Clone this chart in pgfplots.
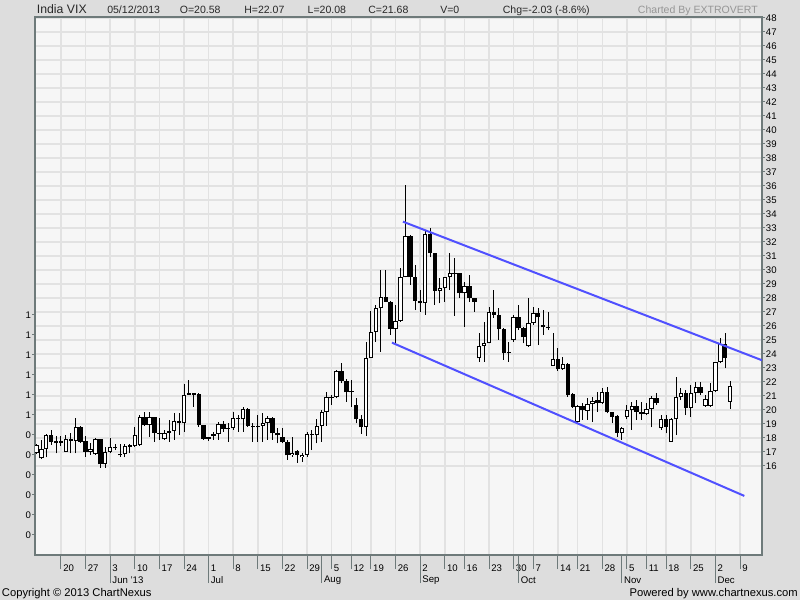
\documentclass[border=0pt]{standalone}
\usepackage{fontspec}
\setmainfont{Liberation Sans}
\usepackage{pgfplots}
\usepackage{pgfplotstable}
\pgfplotsset{compat=1.18}

\definecolor{outerbg}{RGB}{221,221,221}
\definecolor{plotbg}{RGB}{246,246,246}
\definecolor{gridc}{RGB}{226,226,226}
\definecolor{framec}{RGB}{110,122,122}
\definecolor{trend}{RGB}{80,80,255}
\definecolor{hdr}{RGB}{40,40,40}
\definecolor{charted}{RGB}{150,150,150}

% daily candles, i = trading day (1 = 13 May 2013, 142 = 5 Dec 2013)
\pgfplotstableread{
i O H L C
1 16.95 17.60 16.85 17.50
2 16.55 17.86 16.48 17.19
3 17.19 18.28 16.62 18.21
4 18.21 18.57 17.50 17.74
5 17.79 18.14 16.90 17.62
6 17.71 18.14 17.43 17.67
7 17.02 18.21 16.98 17.90
8 17.90 18.33 16.90 17.79
9 17.79 19.40 16.90 18.81
10 18.81 18.86 17.67 17.74
11 17.79 18.14 16.67 17.02
12 17.02 17.62 16.79 17.19
13 16.83 17.98 16.79 17.90
14 17.90 17.95 15.88 16.12
15 16.12 17.33 15.88 17.02
16 17.02 17.98 16.90 17.33
17 17.33 17.57 17.14 17.26
18 16.83 17.57 16.67 16.76
19 16.83 17.57 16.62 17.43
20 17.43 17.57 16.90 17.38
21 17.43 18.76 17.38 18.21
22 17.48 19.64 17.43 19.52
23 19.52 19.88 18.86 18.90
24 18.90 19.88 18.10 19.48
25 19.48 19.52 17.74 18.38
26 18.38 19.40 17.86 18.29
27 17.90 18.57 17.86 18.33
28 18.38 19.30 17.74 18.52
29 18.48 19.76 17.86 19.24
30 19.24 19.76 18.21 19.05
31 19.05 21.86 18.45 21.10
32 21.10 22.14 21.07 21.19
33 21.19 21.19 20.24 21.10
34 21.14 21.19 18.81 18.90
35 18.90 18.90 17.86 17.95
36 17.95 18.10 17.80 18.00
37 18.14 18.45 17.86 18.29
38 18.29 19.17 17.86 18.98
39 18.98 19.21 18.45 18.64
40 18.69 19.10 17.74 18.62
41 18.69 19.88 18.57 19.40
42 19.40 19.64 18.45 19.36
43 19.33 20.24 18.45 20.05
44 20.05 20.12 18.81 18.88
45 18.88 19.05 17.74 18.76
46 18.81 19.64 17.74 18.76
47 18.86 19.76 17.74 19.05
48 19.05 19.57 17.86 19.40
49 19.40 19.48 17.86 18.33
50 18.33 18.69 17.62 18.19
51 18.05 18.69 17.62 17.71
52 17.71 17.86 16.43 16.76
53 16.76 18.10 16.67 16.95
54 17.07 17.14 16.24 16.79
55 16.62 16.90 16.31 16.79
56 16.79 18.45 16.67 18.29
57 18.29 18.57 17.14 18.20
58 18.19 19.33 17.62 18.86
59 18.86 20.00 17.74 19.83
60 19.83 21.31 18.86 20.90
61 20.90 21.07 20.36 20.83
62 20.90 22.86 20.83 22.79
63 22.79 23.38 21.90 22.10
64 22.10 22.19 20.60 21.26
65 21.31 22.14 20.24 21.26
66 20.36 20.83 19.05 19.33
67 19.33 19.64 18.29 18.76
68 18.79 24.86 18.14 23.71
69 23.69 27.07 23.69 25.60
70 25.60 27.50 24.88 27.26
71 27.26 30.00 24.17 28.10
72 28.10 30.00 27.74 27.74
73 27.74 27.79 25.36 25.76
74 25.76 27.50 24.76 26.38
75 26.38 30.12 26.31 29.47
76 29.47 36.07 29.47 32.43
77 32.43 32.50 28.93 29.47
78 29.47 30.36 27.14 27.81
79 27.81 28.57 27.02 27.62
80 27.62 32.86 26.79 32.57
81 32.57 32.98 30.90 31.19
82 31.19 31.24 27.50 28.52
83 28.52 29.40 27.62 28.69
84 28.69 29.52 27.74 29.47
85 29.47 31.19 28.57 29.81
86 29.71 30.83 26.74 29.81
87 29.76 29.76 27.98 28.33
88 28.33 29.17 25.95 28.86
89 28.86 29.64 27.74 27.98
90 27.98 28.02 27.02 27.74
91 23.69 25.48 23.45 24.57
92 24.57 26.31 23.45 24.76
93 24.76 27.38 24.76 27.02
94 27.02 28.57 26.60 26.79
95 26.79 27.26 25.00 25.76
96 25.76 25.83 23.57 24.05
97 24.17 24.88 23.45 24.05
98 25.00 26.79 24.88 26.67
99 26.67 27.50 25.71 25.83
100 25.83 25.95 24.76 25.19
101 24.57 27.98 24.52 26.19
102 26.19 27.38 26.07 26.90
103 26.90 27.26 24.64 26.62
104 26.07 27.14 25.36 25.90
105 25.90 27.02 25.71 25.83
106 23.14 25.48 23.14 23.62
107 23.62 24.40 22.81 22.90
108 22.90 23.81 22.86 23.29
109 23.29 23.33 20.95 21.07
110 21.14 21.19 20.12 20.19
111 19.17 20.36 19.05 20.29
112 20.29 20.48 19.29 20.00
113 19.95 20.83 19.29 20.40
114 20.40 20.95 19.17 20.67
115 20.71 21.31 19.88 20.48
116 20.48 21.55 20.43 21.31
117 21.31 21.62 19.76 19.83
118 19.83 19.88 19.05 19.52
119 19.57 19.64 18.10 18.38
120 18.38 18.81 17.86 18.69
121 19.52 20.33 19.33 20.00
122 20.00 20.60 18.57 20.29
123 20.29 20.71 19.29 19.88
124 19.88 20.60 19.29 19.69
125 19.69 20.48 19.64 20.05
126 20.05 21.00 18.76 20.88
127 20.88 21.24 20.36 20.48
128 18.69 19.64 18.57 19.33
129 19.33 19.64 18.33 18.81
130 17.74 19.40 17.74 19.33
131 19.33 22.38 18.21 20.90
132 20.90 21.55 20.71 21.19
133 21.19 21.43 19.64 20.12
134 20.12 21.79 19.52 21.19
135 21.19 22.02 20.48 21.62
136 21.62 22.02 21.07 21.19
137 20.29 21.07 20.24 20.76
138 20.29 21.90 20.24 21.38
139 21.38 23.45 21.31 23.40
140 23.40 25.12 23.33 24.71
141 24.71 25.50 22.98 23.71
142 20.58 22.07 20.08 21.68
}\candles

\begin{document}
\begin{tikzpicture}
\useasboundingbox (0,0) rectangle (600pt,450pt);
\fill[outerbg] (0,0) rectangle (600pt,450pt);

% header
\begin{scope}[every node/.style={inner sep=0pt, anchor=base west, text=hdr, font=\fontsize{7.9}{9}\selectfont}]
\node[font=\fontsize{9.2}{10}\selectfont] at (27.5pt,439.5pt) {India VIX};
\node at (80.25pt,439.5pt) {05/12/2013};
\node at (134.7pt,439.5pt) {O=20.58};
\node at (183pt,439.5pt) {H=22.07};
\node at (230.6pt,439.5pt) {L=20.08};
\node at (276pt,439.5pt) {C=21.68};
\node at (330pt,439.5pt) {V=0};
\node at (376.9pt,439.5pt) {Chg=-2.03 (-8.6\%)};
\node[anchor=base east, text=charted] at (568.5pt,439.5pt) {Charted By EXTROVERT};
\end{scope}

% footer
\begin{scope}[every node/.style={inner sep=0pt, text=black, font=\fontsize{8.4}{9}\selectfont}]
\node[anchor=base west] at (1.3pt,2.25pt) {Copyright © 2013 ChartNexus};
\node[anchor=base east] at (598.5pt,2.25pt) {Powered by www.chartnexus.com};
\end{scope}

\begin{axis}[
    at={(26.25pt,33.75pt)}, anchor=south west,
    width=545.25pt, height=403.5pt, scale only axis,
    xmin=0.716, xmax=148.47, ymin=9.64, ymax=48.07,
    axis background/.style={fill=plotbg},
    axis line style={draw=framec, line width=1pt},
    tick align=outside,
    tick style={draw=framec, line width=0.75pt},
    major tick length=2.25pt,
    /pgf/number format/assume math mode=true,
    tick label style={font=\fontsize{7.2}{8}\selectfont, text=black},
    ytick={16,...,48}, ytick pos=right, yticklabel pos=right,
    yticklabel style={anchor=west, inner sep=0pt, xshift=0.5pt},
    xtick pos=bottom,
    xtick={6,11,16,21,26,31,36,41,46,51,56,61,65,69,74,79,84,88,93,98,102,107,111,116,121,125,129,134,139,144},
    xticklabels={20,27,3,10,17,24,1,8,15,22,29,5,12,19,26,2,10,16,23,30,7,14,21,28,5,11,18,25,2,9},
    xtick style={/pgfplots/major tick length=10.5pt},
    xticklabel style={anchor=west, inner sep=0pt, xshift=1.5pt, yshift=-7.5pt},
    extra x ticks={16,36,59,79,99,120,139},
    extra x tick labels={Jun '13,Jul,Aug,Sep,Oct,Nov,Dec},
    extra x tick style={grid=none, xtick style={/pgfplots/major tick length=21pt},
        xticklabel style={yshift=-9pt}},
    extra y ticks={26.786,25.357,23.929,22.5,21.071,19.643,18.214,16.786,15.357,13.929,12.5,11.071},
    extra y tick labels={1,1,1,1,1,1,0,0,0,0,0,0},
    extra y tick style={grid=none, ytick pos=left, yticklabel pos=left,
        yticklabel style={anchor=east, xshift=-1pt}},
    xmajorgrids, ymajorgrids,
    grid style={draw=gridc, line width=1.1pt},
]
% wicks
\addplot[draw=none, mark=none, error bars/.cd, y dir=plus, y explicit, error mark=none,
    error bar style={draw=black, line width=0.75pt}]
    table[x=i, y=L, y error plus expr=\thisrow{H}-\thisrow{L}] {\candles};
% bodies
\addplot[draw=none, mark=none, error bars/.cd, y dir=plus, y explicit, error mark=none,
    error bar style={draw=black, line width=3.3pt}]
    table[x=i, y expr={min(\thisrow{O},\thisrow{C})},
          y error plus expr={max(abs(\thisrow{C}-\thisrow{O}),0.09)}] {\candles};
% hollow inside of rising candles
\addplot[draw=none, mark=none, error bars/.cd, y dir=plus, y explicit, error mark=none,
    error bar style={draw=white, line width=1.8pt}]
    table[x=i, y expr={min(\thisrow{O},\thisrow{C})+0.075},
          y error plus expr={(\thisrow{C}>\thisrow{O})*max(\thisrow{C}-\thisrow{O}-0.15,0)}] {\candles};
% channel
\addplot[trend, line width=1.5pt] coordinates {(75.5,33.45) (148.47,23.55)};
\addplot[trend, line width=1.5pt] coordinates {(73.26,24.81) (144.88,13.86)};
\end{axis}
\end{tikzpicture}
\end{document}
